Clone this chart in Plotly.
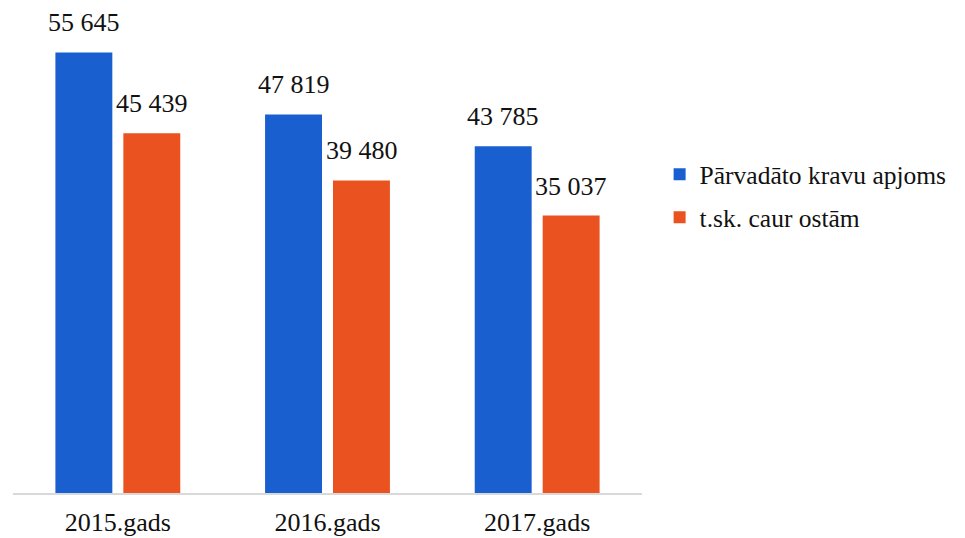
import plotly.graph_objects as go

categories = ["2015.gads", "2016.gads", "2017.gads"]
series_names = ["Pārvadāto kravu apjoms", "t.sk. caur ostām"]
total_volume = [55645, 47819, 43785]
via_ports = [45439, 39480, 35037]
colors = ["#1a5fd0", "#ea521f"]

SERIF = "Liberation Serif"

def fmt(v):
    return f"{v:,}".replace(",", " ")

fig = go.Figure()
for i, (name, vals) in enumerate(zip(series_names, [total_volume, via_ports])):
    fig.add_trace(go.Bar(
        x=categories, y=vals, name=name,
        marker=dict(color=colors[i], line=dict(width=0)),
        legendgroup=f"g{i}",
    ))

annotations = []
for i, vals in enumerate([total_volume, via_ports]):
    for c, v in zip(categories, vals):
        annotations.append(dict(
            x=c, y=v, text=fmt(v), showarrow=False,
            xref="x", yref="y", yanchor="bottom",
            xshift=-34 if i == 0 else 34, yshift=13,
            font=dict(family=SERIF, size=26, color="#111111"),
        ))

fig.update_layout(
    width=957, height=530,
    margin=dict(l=4.5, r=322.5, t=10, b=45, autoexpand=False),
    paper_bgcolor="white", plot_bgcolor="white",
    barmode="group", bargap=0.352, bargroupgap=0.162,
    showlegend=True,
    legend=dict(
        x=1.028, y=0.625, xanchor="left", yanchor="middle",
        font=dict(family=SERIF, size=25.5, color="#111111"),
        tracegroupgap=7, bgcolor="rgba(0,0,0,0)",
    ),
    annotations=annotations,
    xaxis=dict(
        showline=True, linecolor="#d9d9d9", linewidth=1.5,
        ticks="", showgrid=False, automargin=False,
        tickfont=dict(family=SERIF, size=26, color="#111111"),
        ticklabelstandoff=5,
    ),
    yaxis=dict(
        range=[0, 60000], visible=False, showgrid=False, zeroline=False,
        automargin=False,
    ),
)

fig.write_html("out.html")
